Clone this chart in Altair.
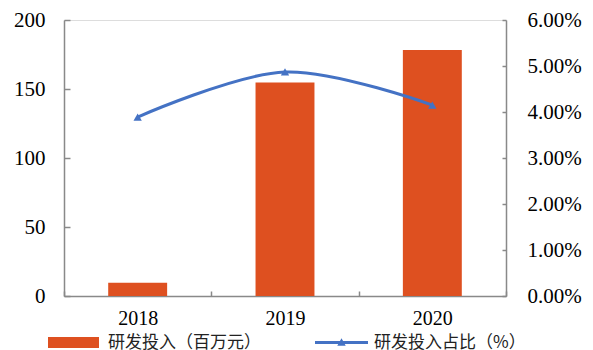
import altair as alt
import pandas as pd

years = ["2018", "2019", "2020"]
rd_spend = [9.6, 154.7, 178.2]      # 研发投入（百万元）
rd_ratio = [3.89, 4.87, 4.15]       # 研发投入占比（%）
bar_name = "研发投入（百万元）"
line_name = "研发投入占比（%）"

df = pd.DataFrame({"year": years, "spend": rd_spend, "ratio": rd_ratio,
                   "s1": bar_name, "s2": line_name})

ORANGE = "#DE5020"
BLUE = "#4472C4"
AXIS = "#898989"
NUM_FONT = "'Liberation Serif', 'Times New Roman', Times, serif"
CJK_FONT = "Noto Sans CJK SC"

W, H = 442, 276

x_enc = alt.X("year:N", sort=years, title=None,
              scale=alt.Scale(paddingInner=0, paddingOuter=0),
              axis=alt.Axis(orient="top", offset=-H, tickBand="extent",
                            labelAngle=0, labelBaseline="top", labelPadding=-17,
                            tickSize=5, labelFontSize=20))

bars = alt.Chart(df).mark_bar(width=alt.RelativeBandSize(0.4)).encode(
    x=x_enc,
    y=alt.Y("spend:Q", title=None,
            scale=alt.Scale(domain=[0, 200]),
            axis=alt.Axis(orient="right", offset=-W, values=[0, 50, 100, 150, 200],
                          labelAlign="right", labelPadding=-25, tickSize=6,
                          labelBaseline="middle")),
    color=alt.Color("s1:N", title=None,
                    scale=alt.Scale(range=[ORANGE]),
                    legend=alt.Legend(orient="none", legendX=-16, legendY=297,
                                      symbolType="M-1,-0.216H1V0.216H-1Z",
                                      symbolSize=2601, symbolStrokeWidth=0,
                                      symbolFillColor=ORANGE, labelOffset=9)),
)

line = alt.Chart(df).mark_line(
    interpolate="cardinal", strokeWidth=3,
    point=alt.OverlayMarkDef(shape="triangle-up", size=70, filled=True, color=BLUE),
).encode(
    x=alt.X("year:N", sort=years),
    y=alt.Y("ratio:Q", title=None,
            scale=alt.Scale(domain=[0, 6]),
            axis=alt.Axis(orient="left", offset=-W, values=[0, 1, 2, 3, 4, 5, 6],
                          labelExpr="format(datum.value, '.2f') + '%'",
                          labelAlign="left", labelPadding=-25, tickSize=4,
                          labelBaseline="middle")),
    color=alt.Color("s2:N", title=None,
                    scale=alt.Scale(range=[BLUE]),
                    legend=alt.Legend(orient="none", legendX=251, legendY=296,
                                      symbolType="M-1,-0.057H1V0.057H-1Z M-0.16,0.12L0,-0.16L0.16,0.12Z",
                                      symbolSize=2809, symbolFillColor=BLUE,
                                      symbolStrokeWidth=0, labelOffset=6)),
)

chart = alt.layer(bars, line).resolve_scale(
    y="independent", color="independent"
).resolve_axis(y="independent").properties(
    width=W, height=H, autosize="none",
    padding={"left": 64, "top": 20, "right": 593 - 64 - W, "bottom": 350 - 20 - H},
).configure_view(stroke=None).configure(background="white").configure_axis(
    labelFont=NUM_FONT, labelFontSize=21, labelColor="#000",
    tickColor=AXIS, domainColor=AXIS, domainWidth=1.5, tickWidth=1.5, grid=False,
).configure_legend(
    labelFont=CJK_FONT, labelFontSize=17, labelColor="#222",
    padding=0, labelLimit=400,
)

chart.save("out.html", embed_options={"renderer": "svg", "actions": False})
